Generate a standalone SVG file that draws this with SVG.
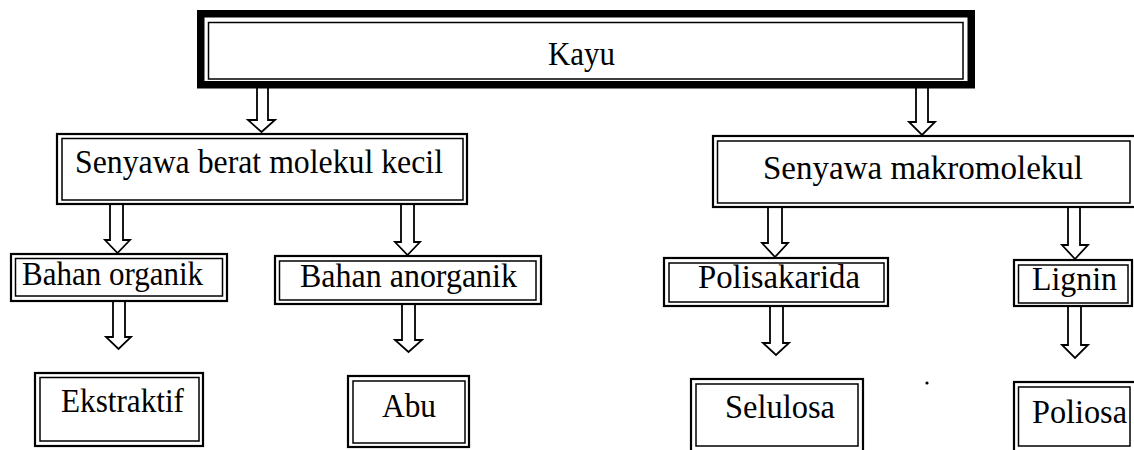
<svg xmlns="http://www.w3.org/2000/svg" width="1134" height="450" viewBox="0 0 1134 450">
<style>
.o{fill:none;stroke:#000;stroke-width:2.2}
.i{fill:none;stroke:#000;stroke-width:1.5}
.k{fill:none;stroke:#000;stroke-width:7.5}
.t{font-family:"Liberation Serif","Times New Roman",serif;font-size:33px;fill:#000;text-anchor:middle}
.a{fill:#fff;stroke:#000;stroke-width:1.8;stroke-linejoin:miter}
</style>
<rect width="1134" height="450" fill="#fff"/>
<g id="connectors">
<path class="a" d="M257,88 V120 H248 L261.5,132 L275,120 H268 V88"/>
<path class="a" d="M916,88 V122 H909 L922,135 L935,122 H928 V88"/>
<path class="a" d="M110,205 V240 H105 L117.5,253 L130,240 H123 V205"/>
<path class="a" d="M401,205 V242 H395 L407.5,255 L420,242 H414 V205"/>
<path class="a" d="M768,208 V243 H762 L775,257 L788,243 H782 V208"/>
<path class="a" d="M1068,208 V245 H1062 L1075,259 L1088,245 H1080 V208"/>
<path class="a" d="M113,302 V337 H106 L118.5,349 L131,337 H125 V302"/>
<path class="a" d="M402,305 V340 H395 L408.5,352 L422,340 H415 V305"/>
<path class="a" d="M770,307 V343 H763 L776,355 L789,343 H783 V307"/>
<path class="a" d="M1068,307 V345 H1062 L1075,358 L1088,345 H1081 V307"/>
</g>
<g id="kayu">
<rect class="k" x="200.75" y="13.75" width="770.5" height="71"/>
<rect class="i" x="208.5" y="22.5" width="754.5" height="56.5"/>
<text class="t" x="581.5" y="65" textLength="67" lengthAdjust="spacingAndGlyphs">Kayu</text>
</g>
<g id="senyawa-kecil">
<rect class="o" x="57" y="134" width="410" height="70"/>
<rect class="i" x="62" y="138.5" width="401" height="61.5"/>
<text class="t" x="259" y="173" textLength="368" lengthAdjust="spacingAndGlyphs">Senyawa berat molekul kecil</text>
</g>
<g id="senyawa-makro">
<rect class="o" x="713" y="136" width="430" height="71"/>
<rect class="i" x="717.5" y="141" width="412.5" height="62"/>
<text class="t" x="923" y="179" textLength="320" lengthAdjust="spacingAndGlyphs">Senyawa makromolekul</text>
</g>
<g id="bahan-organik">
<rect class="o" x="11" y="254" width="216" height="47"/>
<rect class="i" x="15.5" y="258.5" width="207" height="37.5"/>
<text class="t" x="112.5" y="285" textLength="181" lengthAdjust="spacingAndGlyphs">Bahan organik</text>
</g>
<g id="bahan-anorganik">
<rect class="o" x="275" y="256" width="266" height="48"/>
<rect class="i" x="279.5" y="261" width="256.5" height="39"/>
<text class="t" x="408.5" y="287" textLength="217" lengthAdjust="spacingAndGlyphs">Bahan anorganik</text>
</g>
<g id="polisakarida">
<rect class="o" x="664" y="258" width="224" height="48"/>
<rect class="i" x="669" y="263" width="215" height="39"/>
<text class="t" x="779" y="288" textLength="162" lengthAdjust="spacingAndGlyphs">Polisakarida</text>
</g>
<g id="lignin">
<rect class="o" x="1014" y="260" width="118" height="46"/>
<rect class="i" x="1018.5" y="265" width="109.5" height="38"/>
<text class="t" x="1074.5" y="290" textLength="85" lengthAdjust="spacingAndGlyphs">Lignin</text>
</g>
<g id="ekstraktif">
<rect class="o" x="35" y="373" width="168" height="73"/>
<rect class="i" x="40" y="377.5" width="159" height="63.5"/>
<text class="t" x="122.5" y="412" textLength="123" lengthAdjust="spacingAndGlyphs">Ekstraktif</text>
</g>
<g id="abu">
<rect class="o" x="348" y="376" width="121" height="71"/>
<rect class="i" x="353" y="381" width="112" height="62"/>
<text class="t" x="409" y="417" textLength="54" lengthAdjust="spacingAndGlyphs">Abu</text>
</g>
<g id="selulosa">
<rect class="o" x="691" y="379" width="172" height="75"/>
<rect class="i" x="696" y="384" width="162" height="62"/>
<text class="t" x="780" y="418" textLength="110" lengthAdjust="spacingAndGlyphs">Selulosa</text>
</g>
<g id="poliosa">
<rect class="o" x="1014" y="382" width="130" height="72"/>
<rect class="i" x="1018.5" y="387" width="111.5" height="59"/>
<text class="t" x="1079.5" y="423" textLength="95" lengthAdjust="spacingAndGlyphs">Poliosa</text>
</g>
<circle cx="927" cy="383" r="1.6" fill="#000"/>
</svg>
